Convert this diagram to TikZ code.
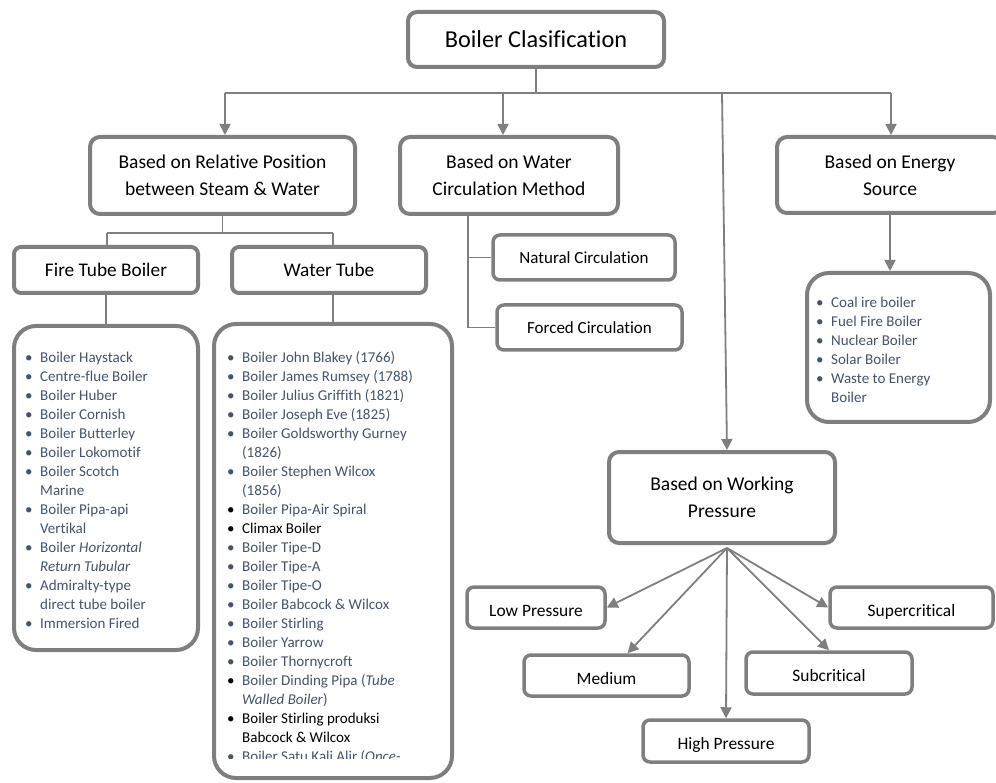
\documentclass[tikz,border=0pt]{standalone}
\usepackage{fontspec}
\setmainfont{Carlito}[Ligatures=NoCommon]
\usetikzlibrary{arrows.meta,positioning}
\definecolor{boxgray}{RGB}{127,127,127}
\definecolor{listblue}{RGB}{68,84,106}
\newcommand{\bul}{\makebox[15pt][l]{\textbullet}}
\newcommand{\bulk}{\makebox[15pt][l]{\color{black}\textbullet}}

\tikzset{
  rootbox/.style={draw=boxgray, line width=4pt, rounded corners=9pt, align=center, inner sep=0pt, font=\fontsize{24.3}{29}\selectfont},
  catbox/.style={draw=boxgray, line width=4pt, rounded corners=10pt, align=center, inner sep=0pt, font=\fontsize{19.5}{27}\selectfont},
  typebox/.style={draw=boxgray, line width=4pt, rounded corners=7pt, inner sep=0pt, font=\fontsize{19.3}{23}\selectfont},
  circbox/.style={draw=boxgray, line width=3.5pt, rounded corners=7pt, inner sep=0pt, font=\fontsize{17}{21}\selectfont},
  presbox/.style={draw=boxgray, line width=3.5pt, rounded corners=7pt, inner sep=0pt, font=\fontsize{17.4}{21}\selectfont, text height=17pt, text depth=0pt},
  listbox/.style={draw=boxgray, line width=4pt, rounded corners=22pt, inner sep=0pt},
  listtext/.style={anchor=north west, inner sep=0pt, text=listblue, font=\fontsize{15}{19}\selectfont},
  conn/.style={draw=boxgray, line width=1.8pt},
  arr/.style={conn, -{Triangle[length=11pt,width=11pt]}},
}

\begin{document}
\begin{tikzpicture}[x=1pt, y=-1pt]
    \useasboundingbox (0,0) rectangle (996,783);
    % Root
    \node[rootbox, minimum width=256pt, minimum height=55pt] (root) at (536,39.5) {Boiler Clasification};
    % Categories
    \node[catbox, minimum width=265pt, minimum height=77pt] (relpos) at (222.5,175.5) {Based on Relative Position\\between Steam \& Water};
    \node[catbox, minimum width=218pt, minimum height=77pt] (circ) at (509,175.5) {Based on Water\\Circulation Method};
    \node[catbox, minimum width=226pt, minimum height=76pt] (energy) at (890,175) {Based on Energy\\Source};
    \node[catbox, minimum width=226pt, minimum height=91pt] (wp) at (722,497.5) {Based on Working\\Pressure};
    % Relative position: fire tube and water tube
    \node[typebox, minimum width=184pt, minimum height=46pt] (fire) at (106,270) {Fire Tube Boiler};
    \node[typebox, minimum width=194pt, minimum height=46pt] (water) at (329,270) {Water Tube};
    \node[listbox, minimum width=184pt, minimum height=324pt] (firelist) at (106,488) {};
    \node[listbox, minimum width=238pt, minimum height=454pt] (waterlist) at (333,551) {};
    \node[listtext] (firetxt) at (25,349) {\begin{tabular}{@{}l@{}l@{}}
      \bul & Boiler Haystack\\
      \bul & Centre-flue Boiler\\
      \bul & Boiler Huber\\
      \bul & Boiler Cornish\\
      \bul & Boiler Butterley\\
      \bul & Boiler Lokomotif\\
      \bul & Boiler Scotch\\
           & Marine\\
      \bul & Boiler Pipa-api\\
           & Vertikal\\
      \bul & Boiler \textit{Horizontal}\\
           & \textit{Return Tubular}\\
      \bul & Admiralty-type\\
           & direct tube boiler\\
      \bul & Immersion Fired
    \end{tabular}};
    \begin{scope}
      \clip (212,322) rectangle (454,758);
      \node[listtext] (watertxt) at (227,349) {\begin{tabular}{@{}l@{}l@{}}
        \bul  & Boiler John Blakey (1766)\\
        \bul  & Boiler James Rumsey (1788)\\
        \bul  & Boiler Julius Griffith (1821)\\
        \bul  & Boiler Joseph Eve (1825)\\
        \bul  & Boiler Goldsworthy Gurney\\
              & (1826)\\
        \bul  & Boiler Stephen Wilcox\\
              & (1856)\\
        \bulk & Boiler Pipa-Air Spiral\\
        \bulk & \textcolor{black}{Climax Boiler}\\
        \bul  & Boiler Tipe-D\\
        \bul  & Boiler Tipe-A\\
        \bul  & Boiler Tipe-O\\
        \bul  & Boiler Babcock \& Wilcox\\
        \bul  & Boiler Stirling\\
        \bul  & Boiler Yarrow\\
        \bul  & Boiler Thornycroft\\
        \bulk & Boiler Dinding Pipa (\textit{Tube}\\
              & \textit{Walled Boiler})\\
        \bulk & \textcolor{black}{Boiler Stirling produksi}\\
              & \textcolor{black}{Babcock \& Wilcox}\\
        \bul  & Boiler Satu Kali Alir (\textit{Once-}
      \end{tabular}};
    \end{scope}
    % Water circulation
    \node[circbox, minimum width=182pt, minimum height=45pt] (natural) at (584,257.5) {Natural Circulation};
    \node[circbox, minimum width=185pt, minimum height=45pt] (forced) at (589.5,327.5) {Forced Circulation};
    % Energy source
    \node[listbox, minimum width=183pt, minimum height=149pt] (energylist) at (898.5,347.5) {};
    \node[listtext] (energytxt) at (816,294) {\begin{tabular}{@{}l@{}l@{}}
      \bul & Coal ire boiler\\
      \bul & Fuel Fire Boiler\\
      \bul & Nuclear Boiler\\
      \bul & Solar Boiler\\
      \bul & Waste to Energy\\
           & Boiler
    \end{tabular}};
    % Working pressure
    \node[presbox, minimum width=138pt, minimum height=41pt] (low) at (536,607.5) {Low Pressure};
    \node[presbox, minimum width=165pt, minimum height=41pt] (medium) at (606.5,675.5) {Medium};
    \node[presbox, minimum width=166pt, minimum height=42pt] (high) at (726,741) {High Pressure};
    \node[presbox, minimum width=166pt, minimum height=42pt] (sub) at (829,673) {Subcritical};
    \node[presbox, minimum width=163pt, minimum height=41pt] (super) at (911.5,607.5) {Supercritical};

    % Root to categories
    \coordinate (busL) at (225,93);
    \coordinate (busC) at (503,93);
    \coordinate (busW) at (722,93);
    \coordinate (busR) at (891,93);
    \draw[conn] (root.south) -- (root.south |- busL);
    \draw[conn] (busL) -- (busR);
    \draw[arr] (busL) -- (busL |- relpos.north);
    \draw[arr] (busC) -- (busC |- circ.north);
    \draw[arr] (busR) -- (busR |- energy.north);
    \draw[arr] (busW) -- ([xshift=5pt]wp.north);
    % Relative position branches
    \coordinate (splitL) at (107,233);
    \coordinate (splitR) at (333,233);
    \draw[conn] (relpos.south) -- (relpos.south |- splitL);
    \draw[conn] (splitL) -- (splitR);
    \draw[conn] (splitL) -- (splitL |- fire.north);
    \draw[conn] (splitR) -- (splitR |- water.north);
    \draw[conn] (fire.south) -- (firelist.north);
    \draw[conn] (waterlist.north |- water.south) -- (waterlist.north);
    % Circulation bracket
    \coordinate (trunk) at (468,0);
    \draw[conn] (trunk |- circ.south) -- (trunk |- forced.west) -- (forced.west);
    \draw[conn] (trunk |- natural.west) -- (natural.west);
    % Energy source list
    \draw[arr] (energy.south) -- (energy.south |- energylist.north);
    % Working pressure fan
    \coordinate (fan) at ([xshift=5pt,yshift=-3pt]wp.south);
    \draw[arr] (fan) -- (low.east);
    \draw[arr] (fan) -- (medium);
    \draw[arr] (fan) -- (high.north);
    \draw[arr] (fan) -- (sub.north);
    \draw[arr] (fan) -- (super.west);
\end{tikzpicture}
\end{document}
